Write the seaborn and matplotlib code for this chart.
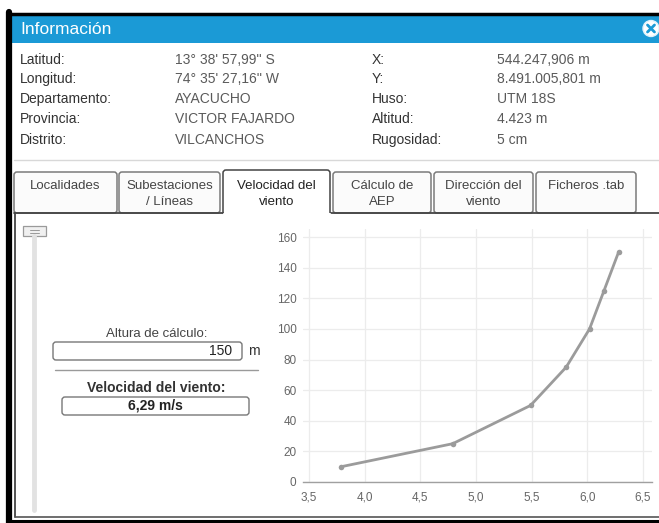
import matplotlib
matplotlib.use("Agg")
import matplotlib.pyplot as plt
from matplotlib.patches import Rectangle, FancyBboxPatch, Circle
from matplotlib.lines import Line2D
import seaborn as sns
import pandas as pd

# ---------------- data ----------------
heights = [10, 25, 50, 75, 100, 125, 150]
speeds = [3.79, 4.79, 5.49, 5.81, 6.02, 6.15, 6.28]
x_ticks = [3.5, 4.0, 4.5, 5.0, 5.5, 6.0, 6.5]
x_tick_labels = ["3,5", "4,0", "4,5", "5,0", "5,5", "6,0", "6,5"]
y_ticks = [0, 20, 40, 60, 80, 100, 120, 140, 160]

title = "Información"
info_labels_left = ["Latitud:", "Longitud:", "Departamento:", "Provincia:", "Distrito:"]
info_values_left = ["13° 38' 57,99'' S", "74° 35' 27,16'' W", "AYACUCHO", "VICTOR FAJARDO", "VILCANCHOS"]
info_labels_right = ["X:", "Y:", "Huso:", "Altitud:", "Rugosidad:"]
info_values_right = ["544.247,906 m", "8.491.005,801 m", "UTM 18S", "4.423 m", "5 cm"]
tab_labels = [["Localidades"], ["Subestaciones", "/ Líneas"], ["Velocidad del", "viento"],
              ["Cálculo de", "AEP"], ["Dirección del", "viento"], ["Ficheros .tab"]]
active_tab = 2
height_label = "Altura de cálculo:"
height_value = "150"
height_unit = "m"
speed_label = "Velocidad del viento:"
speed_value = "6,29 m/s"

# ---------------- figure ----------------
W, H = 659, 523
sns.set_theme(style="white")
plt.rcParams["font.family"] = ["Liberation Sans", "DejaVu Sans"]

fig = plt.figure(figsize=(W / 100, H / 100), dpi=100)
fig.patch.set_facecolor("white")
bg = fig.add_axes([0, 0, 1, 1])
bg.set_xlim(0, W)
bg.set_ylim(H, 0)
bg.axis("off")

# title bar
bg.add_patch(Rectangle((8, 15), W - 8, 28, facecolor="#1b9ad6", edgecolor="none"))
bg.text(20, 29.5, title, color="white", fontsize=12.5, va="center", ha="left")
bg.add_patch(Circle((651, 28.5), 8, facecolor="white", edgecolor="#dff1fb", lw=1))
bg.add_line(Line2D([647.5, 654.5], [25, 32], color="#1b9ad6", lw=2))
bg.add_line(Line2D([647.5, 654.5], [32, 25], color="#1b9ad6", lw=2))

# outer black frame
bg.add_line(Line2D([8, W], [13.5, 13.5], color="black", lw=2.5))
bg.add_line(Line2D([8.5, 8.5], [12, H], color="black", lw=4.5))
bg.add_line(Line2D([8, W], [520.5, 520.5], color="black", lw=2.2))

# info rows
row_y = [60, 79, 99, 119, 140]
for i, y in enumerate(row_y):
    bg.text(20, y, info_labels_left[i], fontsize=10, color="#333333", va="center")
    bg.text(175, y, info_values_left[i], fontsize=10, color="#5a5a5a", va="center")
    bg.text(372, y, info_labels_right[i], fontsize=10, color="#333333", va="center")
    bg.text(497, y, info_values_right[i], fontsize=10, color="#5a5a5a", va="center")

bg.add_line(Line2D([14, W], [160, 160], color="#d8d8d8", lw=1))

# tabs
tab_x = [(14, 117), (119, 220), (223, 330), (333, 431), (434, 533), (536, 636)]
panel_top = 213
for i, ((x0, x1), lines) in enumerate(zip(tab_x, tab_labels)):
    if i == active_tab:
        top, bot, ec, fc, tc = 170, panel_top + 2, "#444444", "white", "#222222"
    else:
        top, bot, ec, fc, tc = 172, panel_top, "#7a7a7a", "#fbfbfb", "#444444"
    bg.add_patch(FancyBboxPatch((x0, top), x1 - x0, bot - top,
                                boxstyle="round,pad=0,rounding_size=3",
                                facecolor=fc, edgecolor=ec, lw=1.1, zorder=2))
    ys = [186] if len(lines) == 1 else [186, 202]
    for ln, yy in zip(lines, ys):
        bg.text((x0 + x1) / 2, yy, ln, fontsize=9.5, color=tc, ha="center",
                va="center", zorder=3)

# content panel border
ax0, ax1 = tab_x[active_tab]
bg.add_line(Line2D([14, ax0], [panel_top, panel_top], color="#444444", lw=1.3, zorder=4))
bg.add_line(Line2D([ax1, W], [panel_top, panel_top], color="#444444", lw=1.3, zorder=4))
bg.add_line(Line2D([ax0 + 0.8, ax1 - 0.8], [panel_top + 1.2, panel_top + 1.2], color="white", lw=2.5, zorder=4))
bg.add_line(Line2D([15, 15], [panel_top, 517], color="#444444", lw=1.3, zorder=4))
bg.add_line(Line2D([15, W], [516.5, 516.5], color="#555555", lw=1.2, zorder=4))

# slider
bg.add_line(Line2D([34, 34], [236, 510], color="#e2e2e2", lw=3.5))
bg.add_patch(Rectangle((23, 226), 23, 10, facecolor="#f0f0f0", edgecolor="#9a9a9a", lw=0.9))
for yy in (229.5, 232.5):
    bg.add_line(Line2D([30, 39], [yy, yy], color="#9a9a9a", lw=0.7))

# left controls
bg.text(157, 334, height_label, fontsize=9.5, color="#444444", ha="center", va="center")
bg.add_patch(FancyBboxPatch((53, 342), 189, 18, boxstyle="round,pad=0,rounding_size=3",
                            facecolor="white", edgecolor="#777777", lw=1))
bg.text(232, 351, height_value, fontsize=10, color="#222222", ha="right", va="center")
bg.text(248, 351, height_unit, fontsize=10, color="#333333", ha="left", va="center")
bg.add_line(Line2D([55, 258], [370, 370], color="#9a9a9a", lw=1))
bg.text(156, 388, speed_label, fontsize=10, color="#333333", ha="center", va="center",
        fontweight="bold")
bg.add_patch(FancyBboxPatch((62, 397), 187, 18, boxstyle="round,pad=0,rounding_size=3",
                            facecolor="white", edgecolor="#777777", lw=1))
bg.text(155, 406, speed_value, fontsize=10, color="#222222", ha="center", va="center",
        fontweight="bold")

# ---------------- chart ----------------
px_per_x = (643 - 309) / 3.0
xlim = (3.45, 6.58)
left_px = 309 - (3.5 - xlim[0]) * px_per_x
right_px = 643 + (xlim[1] - 6.5) * px_per_x
px_per_y = (482 - 237) / 160.0
ylim = (0, 165)
bottom_px = 482
top_px = 482 - ylim[1] * px_per_y

ax = fig.add_axes([left_px / W, 1 - bottom_px / H, (right_px - left_px) / W,
                   (bottom_px - top_px) / H])
ax.set_facecolor("none")
df = pd.DataFrame({"speed": speeds, "height": heights})
sns.lineplot(data=df, x="speed", y="height", ax=ax, color="#9b9b9b", linewidth=2,
             marker="o", markersize=4, markeredgewidth=0, sort=False, estimator=None)
ax.set_xlim(*xlim)
ax.set_ylim(*ylim)
ax.set_xticks(x_ticks)
ax.set_xticklabels(x_tick_labels)
ax.set_yticks(y_ticks)
ax.set_yticklabels([str(v) for v in y_ticks])
ax.set_xlabel("")
ax.set_ylabel("")
ax.grid(True, color="#ececec", lw=0.9)
ax.set_axisbelow(True)
for s in ("top", "right", "left"):
    ax.spines[s].set_visible(False)
ax.spines["bottom"].set_color("#a0a0a0")
ax.spines["bottom"].set_linewidth(1)
ax.tick_params(axis="both", length=0, labelsize=8.5, labelcolor="#666666")
ax.tick_params(axis="x", pad=7)
ax.tick_params(axis="y", pad=5)

fig.savefig("out.png", dpi=100)
